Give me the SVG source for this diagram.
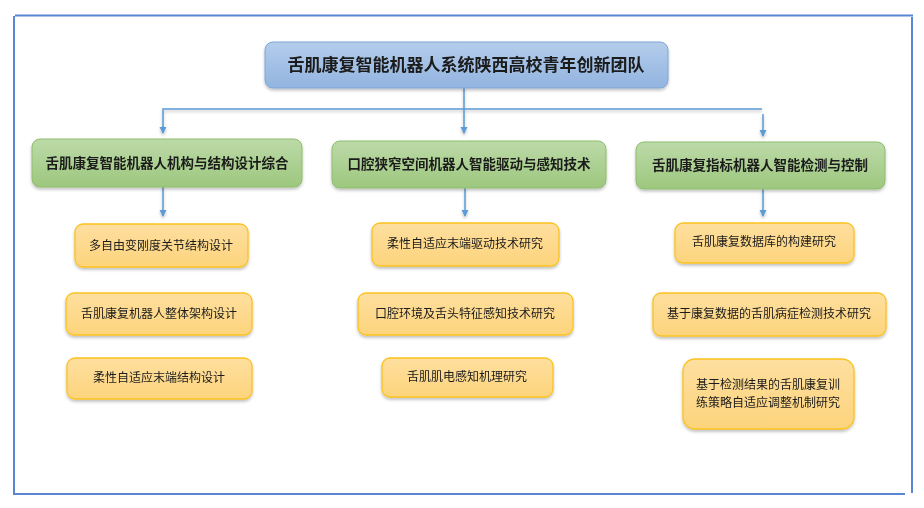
<svg xmlns="http://www.w3.org/2000/svg" width="924" height="508" viewBox="0 0 924 508">
<defs>
<linearGradient id="gBlue" x1="0" y1="0" x2="0" y2="1"><stop offset="0" stop-color="#b4cdeb"/><stop offset="1" stop-color="#92b4e0"/></linearGradient>
<linearGradient id="gGreen" x1="0" y1="0" x2="0" y2="1"><stop offset="0" stop-color="#bcdaa8"/><stop offset="1" stop-color="#9dc77e"/></linearGradient>
<linearGradient id="gOrange" x1="0" y1="0" x2="0" y2="1"><stop offset="0" stop-color="#fedf9f"/><stop offset="1" stop-color="#fdd47c"/></linearGradient>
<filter id="sh" x="-10%" y="-20%" width="120%" height="150%"><feDropShadow dx="0" dy="2" stdDeviation="1.5" flood-color="#000" flood-opacity="0.25"/></filter>
<marker id="arr" markerWidth="8" markerHeight="8" refX="6" refY="4" orient="auto" markerUnits="userSpaceOnUse"><path d="M0,0.5 L7,4 L0,7.5 Z" fill="#5b9bd5"/></marker>
</defs>
<style>
.frame{stroke:#5a86d6;stroke-width:2;fill:none}
.con{stroke:#5b9bd5;stroke-width:1.5;fill:none}
.blue{fill:url(#gBlue);stroke:#7ea6d8;stroke-width:1}
.green{fill:url(#gGreen);stroke:#8dbd6c;stroke-width:1}
.orange{fill:url(#gOrange);stroke:#fbc21f;stroke-width:1.3}
text{font-family:"Noto Sans CJK SC","Noto Sans CJK JP",sans-serif;fill:#1a1a1a;text-anchor:middle}
.t1{font-size:17px;font-weight:bold}
.t2{font-size:13.5px;font-weight:bold}
.t3{font-size:12px}
</style>
<g id="frame">
<line class="frame" x1="15" y1="15.5" x2="913" y2="15.5"/>
<line class="frame" x1="14" y1="16" x2="14" y2="493"/>
<line class="frame" x1="912" y1="17" x2="912" y2="493"/>
<line class="frame" x1="13" y1="494" x2="905" y2="494"/>
</g>
<g id="connectors" filter="url(#sh)">
<line class="con" x1="464" y1="88" x2="464" y2="133" marker-end="url(#arr)"/>
<polyline class="con" points="163,133 163,109 762,109"/>
<line class="con" x1="163" y1="126" x2="163" y2="133" marker-end="url(#arr)"/>
<line class="con" x1="763" y1="114" x2="763" y2="136" marker-end="url(#arr)"/>
<line class="con" x1="163" y1="187" x2="163" y2="216" marker-end="url(#arr)"/>
<line class="con" x1="465" y1="188" x2="465" y2="216" marker-end="url(#arr)"/>
<line class="con" x1="763" y1="189" x2="763" y2="216" marker-end="url(#arr)"/>
</g>
<g id="title" filter="url(#sh)"><rect class="blue" x="265" y="42" width="403" height="46" rx="8"/><text class="t1" x="466" y="71">舌肌康复智能机器人系统陕西高校青年创新团队</text></g>
<g id="g1" filter="url(#sh)"><rect class="green" x="32" y="139" width="270" height="48" rx="8"/><text class="t2" x="167" y="168">舌肌康复智能机器人机构与结构设计综合</text></g>
<g id="g2" filter="url(#sh)"><rect class="green" x="332" y="141" width="274" height="47" rx="8"/><text class="t2" x="469" y="169">口腔狭窄空间机器人智能驱动与感知技术</text></g>
<g id="g3" filter="url(#sh)"><rect class="green" x="636" y="142" width="249" height="47" rx="8"/><text class="t2" x="760" y="170">舌肌康复指标机器人智能检测与控制</text></g>
<g id="l1" filter="url(#sh)"><rect class="orange" x="75" y="224" width="173" height="43" rx="8"/><text class="t3" x="161" y="250">多自由变刚度关节结构设计</text></g>
<g id="l2" filter="url(#sh)"><rect class="orange" x="66" y="293" width="186" height="42" rx="8"/><text class="t3" x="159" y="318">舌肌康复机器人整体架构设计</text></g>
<g id="l3" filter="url(#sh)"><rect class="orange" x="67" y="358" width="185" height="41" rx="8"/><text class="t3" x="159" y="382">柔性自适应末端结构设计</text></g>
<g id="m1" filter="url(#sh)"><rect class="orange" x="372" y="223" width="187" height="43" rx="8"/><text class="t3" x="465" y="248">柔性自适应末端驱动技术研究</text></g>
<g id="m2" filter="url(#sh)"><rect class="orange" x="358" y="293" width="215" height="42" rx="8"/><text class="t3" x="465" y="318">口腔环境及舌头特征感知技术研究</text></g>
<g id="m3" filter="url(#sh)"><rect class="orange" x="382" y="358" width="171" height="39" rx="8"/><text class="t3" x="467" y="381">舌肌肌电感知机理研究</text></g>
<g id="r1" filter="url(#sh)"><rect class="orange" x="675" y="223" width="179" height="40" rx="8"/><text class="t3" x="764" y="246">舌肌康复数据库的构建研究</text></g>
<g id="r2" filter="url(#sh)"><rect class="orange" x="653" y="293" width="233" height="43" rx="8"/><text class="t3" x="769" y="318">基于康复数据的舌肌病症检测技术研究</text></g>
<g id="r3" filter="url(#sh)"><rect class="orange" x="683" y="359" width="171" height="70" rx="12"/><text class="t3" x="768" y="389">基于检测结果的舌肌康复训</text><text class="t3" x="768" y="407">练策略自适应调整机制研究</text></g>
</svg>
